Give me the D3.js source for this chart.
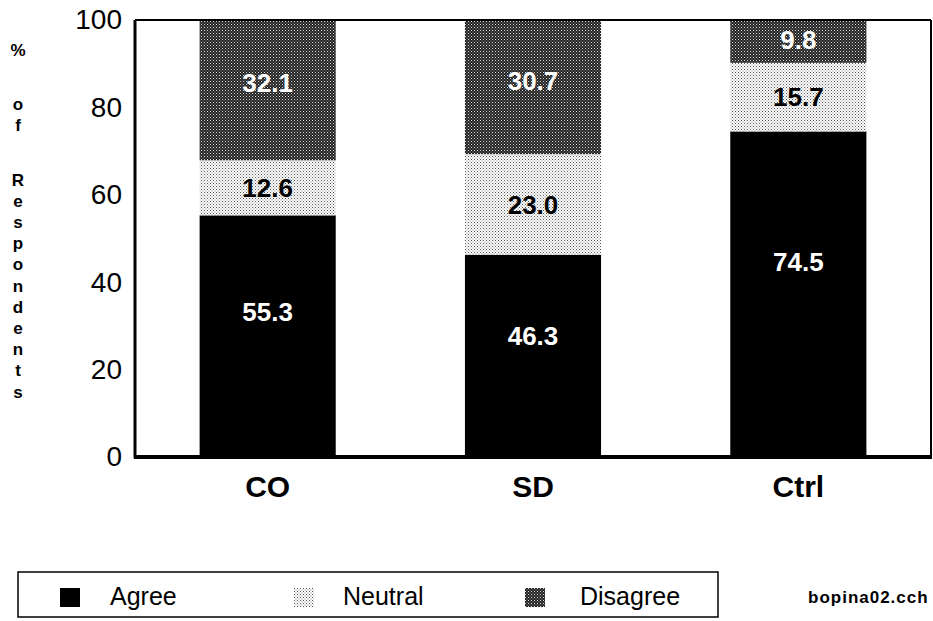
<!DOCTYPE html>
<html>
<head>
<meta charset="utf-8">
<script src="https://cdn.jsdelivr.net/npm/d3@7"></script>
<style>
  body { margin: 0; background: #fff; }
  svg { display: block; font-family: "Liberation Sans", Arial, Helvetica, sans-serif; }
</style>
</head>
<body>
<svg id="chart" width="933" height="621"></svg>
<script>
const categories = ["CO", "SD", "Ctrl"];
const seriesNames = ["Agree", "Neutral", "Disagree"];
const agree = [55.3, 46.3, 74.5];
const neutral = [12.6, 23.0, 15.7];
const disagree = [32.1, 30.7, 9.8];
const yTicks = [0, 20, 40, 60, 80, 100];
const yTitle = "% of Respondents";
const footnote = "bopina02.cch";

(function () {
const svg = d3.select("#chart");
const defs = svg.append("defs");

// Neutral: light dotted pattern
const pN = defs.append("pattern").attr("id", "pNeutral").attr("patternUnits", "userSpaceOnUse")
  .attr("width", 3).attr("height", 3);
pN.append("rect").attr("width", 3).attr("height", 3).attr("fill", "#fff");
pN.append("rect").attr("x", 0).attr("y", 0).attr("width", 1).attr("height", 1).attr("fill", "#555");
pN.append("rect").attr("x", 1.5).attr("y", 1.5).attr("width", 1).attr("height", 1).attr("fill", "#777");

// Disagree: dark cross-hatched pattern
const pD = defs.append("pattern").attr("id", "pDisagree").attr("patternUnits", "userSpaceOnUse")
  .attr("width", 3).attr("height", 3);
pD.append("rect").attr("width", 3).attr("height", 3).attr("fill", "#222");
pD.append("rect").attr("x", 0).attr("y", 0).attr("width", 1).attr("height", 1).attr("fill", "#ddd");
pD.append("rect").attr("x", 1.5).attr("y", 1.5).attr("width", 1).attr("height", 1).attr("fill", "#aaa");

const fills = { Agree: "#000", Neutral: "url(#pNeutral)", Disagree: "url(#pDisagree)" };
const labelColors = { Agree: "#fff", Neutral: "#000", Disagree: "#fff" };
const labelFrac = { Agree: 0.6, Neutral: 0.5, Disagree: 0.55 };

const mLeft = 135, mRight = 931, mTop = 20, mBottom = 457;

const x = d3.scaleBand().domain(categories).range([mLeft, mRight]).paddingInner(0.487).paddingOuter(0.2435);
const y = d3.scaleLinear().domain([0, 100]).range([mBottom, mTop]);

const rows = categories.map((c, i) => ({ cat: c, Agree: agree[i], Neutral: neutral[i], Disagree: disagree[i] }));
const stack = d3.stack().keys(seriesNames)(rows);

// bars
stack.forEach(layer => {
  const key = layer.key;
  svg.append("g").selectAll("rect").data(layer).join("rect")
    .attr("x", d => x(d.data.cat))
    .attr("width", x.bandwidth())
    .attr("y", d => y(d[1]))
    .attr("height", d => y(d[0]) - y(d[1]))
    .attr("fill", fills[key]);
  svg.append("g").selectAll("text").data(layer).join("text")
    .attr("x", d => x(d.data.cat) + x.bandwidth() / 2)
    .attr("y", d => y(d[0] + (d[1] - d[0]) * labelFrac[key]))
    .attr("dy", "0.36em")
    .attr("text-anchor", "middle")
    .attr("font-size", 26)
    .attr("font-weight", "bold")
    .attr("fill", labelColors[key])
    .text(d => (d[1] - d[0]).toFixed(1));
});

// frame
svg.append("line").attr("x1", mLeft).attr("x2", mRight).attr("y1", mTop).attr("y2", mTop)
  .attr("stroke", "#000").attr("stroke-width", 2);
svg.append("line").attr("x1", mRight).attr("x2", mRight).attr("y1", mTop).attr("y2", mBottom)
  .attr("stroke", "#000").attr("stroke-width", 2);
svg.append("line").attr("x1", mLeft).attr("x2", mLeft).attr("y1", mTop).attr("y2", mBottom + 1)
  .attr("stroke", "#000").attr("stroke-width", 3);
svg.append("line").attr("x1", mLeft - 1).attr("x2", mRight + 1).attr("y1", mBottom).attr("y2", mBottom)
  .attr("stroke", "#000").attr("stroke-width", 4);

// y axis tick labels
const yAxis = d3.axisLeft(y).tickValues(yTicks).tickSize(0).tickPadding(13);
const gy = svg.append("g").attr("transform", `translate(${mLeft},0)`).call(yAxis);
gy.select(".domain").remove();
gy.selectAll("text").attr("font-size", 28).attr("fill", "#000")
  .attr("font-family", "'Liberation Sans', Arial, sans-serif");

// x axis labels
const xAxis = d3.axisBottom(x).tickSize(0).tickPadding(0);
const gx = svg.append("g").attr("transform", `translate(0,${mBottom})`).call(xAxis);
gx.select(".domain").remove();
gx.selectAll("text").attr("y", 40).attr("dy", null).attr("font-size", 30).attr("font-weight", "bold").attr("fill", "#000")
  .attr("font-family", "'Liberation Sans', Arial, sans-serif");

// vertical y title
const letters = yTitle.split("");
let yy = 50;
const positions = [];
letters.forEach(ch => {
  if (ch === " ") { yy += 33; return; }
  positions.push({ ch, y: yy });
  yy += 21.2;
});
svg.append("g").selectAll("text").data(positions).join("text")
  .attr("x", 18).attr("y", d => d.y).attr("dy", "0.35em")
  .attr("text-anchor", "middle").attr("font-size", 17).attr("font-weight", "bold")
  .text(d => d.ch);

// legend
const lg = svg.append("g");
lg.append("rect").attr("x", 18).attr("y", 572).attr("width", 700).attr("height", 45)
  .attr("fill", "#fff").attr("stroke", "#000").attr("stroke-width", 1.5);
const legendItems = [
  { key: "Agree", sx: 60, tx: 110 },
  { key: "Neutral", sx: 294, tx: 343 },
  { key: "Disagree", sx: 525, tx: 580 }
];
legendItems.forEach(it => {
  lg.append("rect").attr("x", it.sx).attr("y", 588).attr("width", 20).attr("height", 19)
    .attr("fill", fills[it.key]);
  lg.append("text").attr("x", it.tx).attr("y", 605)
    .attr("font-size", 25).text(it.key);
});

svg.append("text").attr("x", 808).attr("y", 597).attr("dy", "0.35em")
  .attr("font-size", 17).attr("font-weight", "bold").attr("letter-spacing", 1).text(footnote);
})();
</script>
</body>
</html>
